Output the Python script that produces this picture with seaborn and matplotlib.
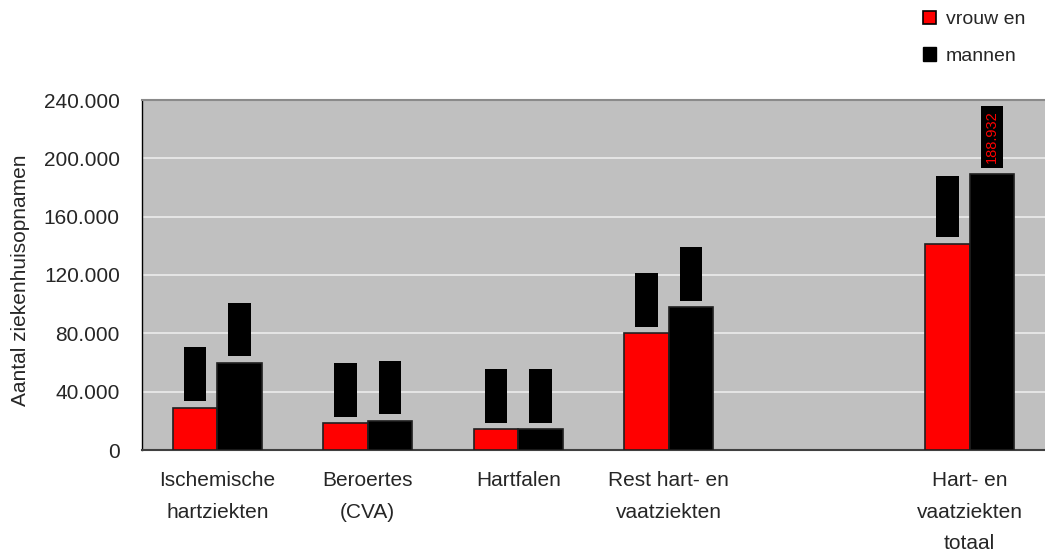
import pandas as pd
import matplotlib
matplotlib.use('Agg')
import matplotlib.pyplot as plt
import seaborn as sns
from matplotlib.patches import Patch

# Data
categories = ['Ischemische\nhartziekten', 'Beroertes\n(CVA)', 'Hartfalen',
              'Rest hart- en\nvaatziekten', 'Hart- en\nvaatziekten\ntotaal']
slot_order = ['Ischemische\nhartziekten', 'Beroertes\n(CVA)', 'Hartfalen',
              'Rest hart- en\nvaatziekten', ' ', 'Hart- en\nvaatziekten\ntotaal']
vrouwen = [29000, 18300, 14200, 80000, 141300]
mannen = [59700, 19900, 14200, 97900, 188932]
series = ['vrouw en', 'mannen']
colors = ['#ff0000', '#000000']

df = pd.DataFrame({
    'categorie': categories * 2,
    'geslacht': [series[0]] * len(categories) + [series[1]] * len(categories),
    'aantal': vrouwen + mannen,
})

sns.set_style('white')
plt.rcParams['font.family'] = ['Liberation Sans', 'DejaVu Sans']
fs = 15

fig = plt.figure(figsize=(10.45, 5.52), dpi=100)
ax = fig.add_axes([142 / 1045, 1 - 450 / 552, 903 / 1045, 350 / 552])
ax.set_facecolor('#c0c0c0')

sns.barplot(data=df, x='categorie', y='aantal', hue='geslacht', order=slot_order,
            hue_order=series, palette=colors, saturation=1, width=0.59, gap=0,
            errorbar=None, edgecolor='#202020', linewidth=1.2, legend=False,
            ax=ax, zorder=3)

# value labels (black boxes, text hardly visible except the last one)
for ci, cont in enumerate(ax.containers):
    for bar in cont:
        h = bar.get_height()
        if pd.isna(h) or h == 0:
            continue
        txt = f'{h:,.0f}'.replace(',', '.')
        tc = 'black'
        if ci == 1 and h == max(mannen):
            tc = '#ff0000'
        ax.annotate(txt, (bar.get_x() + bar.get_width() / 2, h),
                    xytext=(0, 11), textcoords='offset pixels',
                    rotation=90, ha='center', va='bottom', fontsize=10.5,
                    color=tc, zorder=5,
                    bbox=dict(boxstyle='square,pad=0.3', fc='black', ec='none'))

ax.set_ylim(0, 240000)
ax.set_xlim(-0.5, 5.5)
yt = [0, 40000, 80000, 120000, 160000, 200000, 240000]
ax.set_yticks(yt)
ax.set_yticklabels([f'{v:,.0f}'.replace(',', '.') for v in yt], fontsize=fs)
ax.yaxis.grid(True, color='#e8e8e8', linewidth=1.3, zorder=0)
ax.set_axisbelow(True)

ax.set_xticks(range(len(slot_order)))
ax.set_xticklabels(slot_order, fontsize=fs, linespacing=1.85, va='top')
ax.set_xticks([i - 0.5 for i in range(len(slot_order) + 1)], minor=True)
ax.tick_params(axis='x', which='major', length=0, pad=15)
ax.tick_params(axis='x', which='minor', length=6, width=1, color='black', direction='out')
ax.tick_params(axis='y', length=6, width=1, color='black', direction='out', pad=10)

ax.set_xlabel('')
ax.set_ylabel('')
fig.text(21 / 1045, 1 - 280 / 552, 'Aantal ziekenhuisopnamen', rotation=90,
         ha='center', va='center', fontsize=fs)

ax.spines['left'].set_color('black')
ax.spines['left'].set_linewidth(1.0)
ax.spines['bottom'].set_color('#404040')
ax.spines['bottom'].set_linewidth(1.5)
ax.spines['top'].set_color('#8a8a8a')
ax.spines['top'].set_linewidth(1.5)
ax.spines['right'].set_visible(False)

handles = [Patch(facecolor=colors[0], edgecolor='black', linewidth=1.2),
           Patch(facecolor=colors[1], edgecolor='black')]
fig.legend(handles, series, loc='upper left', bbox_to_anchor=(905 / 1045, 1.012),
           frameon=False, fontsize=fs - 1, handlelength=0.7, handleheight=0.7,
           handletextpad=0.5, labelspacing=0.95)

fig.savefig('out.png', dpi=100)
